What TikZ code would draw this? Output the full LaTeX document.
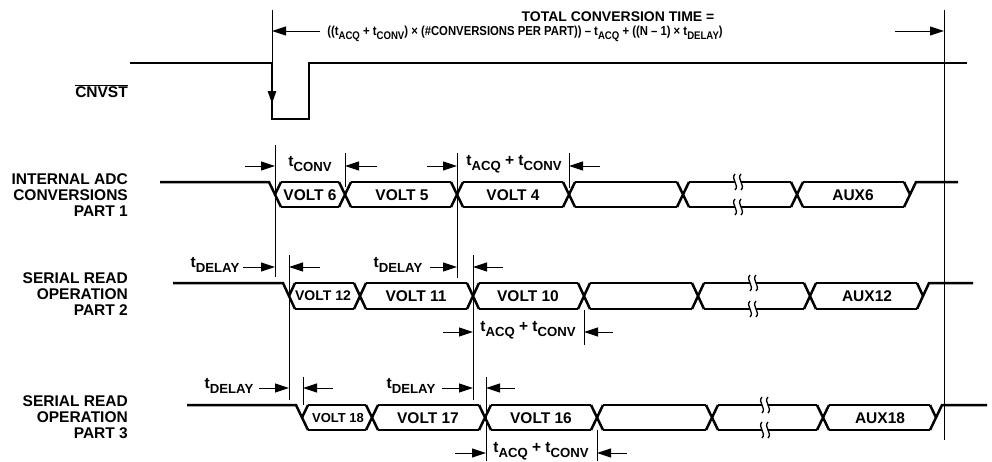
\documentclass[tikz,border=0pt]{standalone}
\usepackage{fontspec}
\setmainfont{Liberation Sans}
\usetikzlibrary{arrows.meta,positioning}

\newcommand{\tsub}[1]{t\raisebox{-.6ex}{\scalebox{.85}{#1}}}
% one bus row: top y, bottom y, idle start, first crossing, inner crossings, last crossing, idle end
\newcommand{\busrow}[7]{%
  \draw[sig] (#3,#1) -- (#4-6,#1) -- (#4+6,#2);
  \draw[sig] (#4,{(#1+#2)/2}) -- (#4+6,#1);
  \foreach \c in {#5} \draw[sig] (\c-6,#1) -- (\c+6,#2) (\c-6,#2) -- (\c+6,#1);
  \foreach \c [remember=\c as \pc (initially #4)] in {#5,#6}
    \draw[sig] (\pc+6,#1) -- (\c-6,#1) (\pc+6,#2) -- (\c-6,#2);
  \draw[sig] (#6-6,#1) -- (#6,{(#1+#2)/2});
  \draw[sig] (#6-6,#2) -- (#6+6,#1) -- (#7,#1);
}
% break mark on a line
\newcommand{\brk}[2]{%
  \fill[white] (#1-3,#2-3) rectangle (#1+3,#2+3);
  \draw[wavy] (#1-3,#2-8) .. controls (#1-8,#2-3) and (#1+2,#2+3) .. (#1-3,#2+8);
  \draw[wavy] (#1+3,#2-8) .. controls (#1-2,#2-3) and (#1+8,#2+3) .. (#1+3,#2+8);
}

\begin{document}
\begin{tikzpicture}
  [x=1pt, y=-1pt,
   sig/.style={line width=2.5pt, line join=miter},
   tick/.style={line width=1pt},
   dim/.style={line width=1pt, -{Triangle[length=14pt,width=9pt]}},
   wavy/.style={line width=1.3pt},
   lbl/.style={font=\fontsize{15.5}{16}\selectfont\bfseries, inner sep=0pt},
   small/.style={font=\fontsize{14}{15}\selectfont\bfseries, inner sep=0pt},]
  \useasboundingbox (0,0) rectangle (992,461);

  % labels on the left
  \node[lbl, anchor=east] (cnvst) at (128,91) {$\overline{\mbox{CNVST}}$};
  \node[lbl, anchor=east, align=right] (part1) at (128,195) {INTERNAL ADC\\CONVERSIONS\\PART 1};
  \node[lbl, anchor=east, align=right] (part2) at (128,294) {SERIAL READ\\OPERATION\\PART 2};
  \node[lbl, anchor=east, align=right] (part3) at (128,417) {SERIAL READ\\OPERATION\\PART 3};

  % total conversion time
  \node[small] (total) at (618,17) {TOTAL CONVERSION TIME =};
  \node[small, font=\fontsize{13}{14}\selectfont\bfseries] (formula) at (525,34)
    {\scalebox{.87}[1]{((\tsub{ACQ} + \tsub{CONV}) × (\#CONVERSIONS PER PART)) – \tsub{ACQ} + ((N – 1) × \tsub{DELAY})}};

  % CNVST
  \draw[sig] (130,63) -- (272,63) -- (272,119) -- (309,119) -- (309,63) -- (967,63);
  \draw[sig, -{Triangle[length=13pt,width=8pt]}] (272,85) -- (272,104);

  % bus rows
  \busrow{182}{207}{160}{275}{345,457,569,683,797}{910}{958}
  \busrow{283}{309}{173}{289}{360,473,584,698,810}{923}{973}
  \busrow{405}{430}{187}{302}{372,485,597,712,823}{936}{987}
  \brk{738}{182} \brk{738}{207}
  \brk{753}{283} \brk{753}{309}
  \brk{765}{405} \brk{765}{430}

  \node[lbl] (v6) at (310,195) {VOLT 6};
  \node[lbl] (v5) at (402,195) {VOLT 5};
  \node[lbl] (v4) at (513,195) {VOLT 4};
  \node[lbl] (aux6) at (853,195) {AUX6};
  \node[small] (v12) at (323,296) {VOLT 12};
  \node[lbl] (v11) at (416,296) {VOLT 11};
  \node[lbl] (v10) at (528,296) {VOLT 10};
  \node[lbl] (aux12) at (867,296) {AUX12};
  \node[font=\fontsize{13}{14}\selectfont\bfseries, inner sep=0pt] (v18) at (338,418) {VOLT 18};
  \node[lbl] (v17) at (428,418) {VOLT 17};
  \node[lbl] (v16) at (541,418) {VOLT 16};
  \node[lbl] (aux18) at (880,418) {AUX18};

  % timing lines
  \foreach \x/\ya/\yb in {272/10/63, 944/10/440, 275/145/277, 345/153/187, 457/153/278,
      569/153/188, 289/255/400, 473/255/400, 584/310/345, 303/377/405, 486/377/461, 597/430/461}
    \draw[tick] (\x,\ya) -- (\x,\yb);
  \foreach \a/\b/\y in {320/272/31, 895/944/31, 245/275/166, 377/345/166, 427/457/166, 600/569/166,
      243/275/267, 320/289/267, 430/457/267, 503/473/267, 443/473/332, 613/584/332,
      259/289/388, 333/303/388, 442/473/388, 515/486/388, 455/486/453, 627/597/453}
    \draw[dim] (\a,\y) -- (\b,\y);

  % timing labels
  \node[lbl] (tconv) at (310,164) {\tsub{CONV}};
  \node[lbl] (tsum1) at (514,164) {\tsub{ACQ} + \tsub{CONV}};
  \node[lbl] (tdel1) at (215,265) {\tsub{DELAY}};
  \node[lbl] (tdel2) at (398,265) {\tsub{DELAY}};
  \node[lbl] (tsum2) at (528,330) {\tsub{ACQ} + \tsub{CONV}};
  \node[lbl] (tdel3) at (229,386) {\tsub{DELAY}};
  \node[lbl] (tdel4) at (411,386) {\tsub{DELAY}};
  \node[lbl] (tsum3) at (541,451) {\tsub{ACQ} + \tsub{CONV}};
\end{tikzpicture}
\end{document}
